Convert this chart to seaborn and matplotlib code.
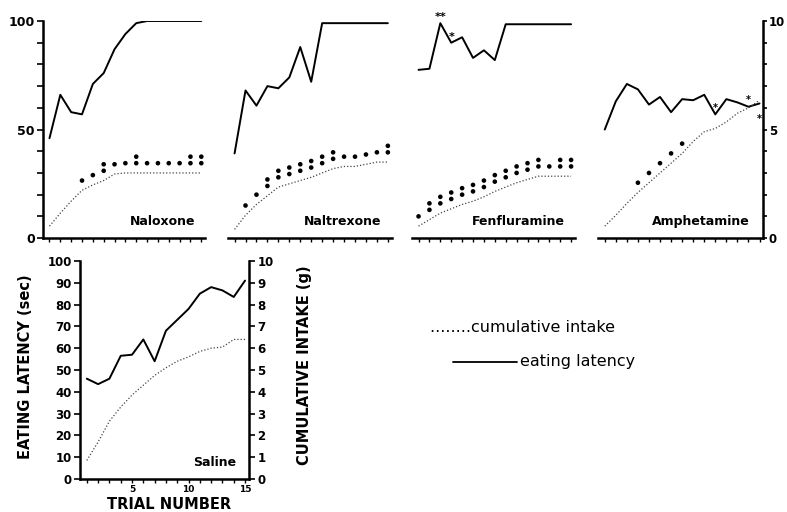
import matplotlib
matplotlib.use("Agg")
import matplotlib.pyplot as plt
from matplotlib.lines import Line2D
import seaborn as sns
import pandas as pd

trials = list(range(1, 16))

# eating latency (sec), cumulative intake (g), significance dots per trial
naloxone_latency = [46, 66, 58, 57, 71, 76, 87, 94, 99, 100, 100, 100, 100, 100, 100]
naloxone_intake = [0.55, 1.15, 1.7, 2.2, 2.45, 2.65, 2.95, 3.0, 3.0, 3.0, 3.0, 3.0, 3.0, 3.0, 3.0]
naloxone_sig = [0, 0, 0, 1, 1, 2, 1, 1, 2, 1, 1, 1, 1, 2, 2]

naltrexone_latency = [39, 68, 61, 70, 69, 74, 88, 72, 99, 99, 99, 99, 99, 99, 99]
naltrexone_intake = [0.4, 1.05, 1.55, 1.95, 2.35, 2.5, 2.65, 2.8, 3.0, 3.2, 3.3, 3.3, 3.4, 3.5, 3.5]
naltrexone_sig = [0, 1, 1, 2, 2, 2, 2, 2, 2, 2, 1, 1, 1, 1, 2]

fenfluramine_latency = [77.5, 78, 99, 90, 92.5, 83, 86.5, 82, 98.5, 98.5, 98.5, 98.5, 98.5, 98.5, 98.5]
fenfluramine_intake = [0.55, 0.85, 1.15, 1.35, 1.55, 1.7, 1.9, 2.15, 2.35, 2.55, 2.7, 2.85, 2.85, 2.85, 2.85]
fenfluramine_sig = [1, 2, 2, 2, 2, 2, 2, 2, 2, 2, 2, 2, 1, 2, 2]
fenfluramine_star_trials = [3, 4]
fenfluramine_star_labels = ["**", "*"]

amphetamine_latency = [50, 63, 71, 68.5, 61.5, 65, 58, 64, 63.5, 66, 57, 64, 62.5, 60.5, 62]
amphetamine_intake = [0.55, 1.05, 1.6, 2.1, 2.55, 3.0, 3.45, 3.9, 4.45, 4.9, 5.05, 5.35, 5.75, 6.0, 6.35]
amphetamine_sig = [0, 0, 0, 1, 1, 1, 1, 1, 0, 0, 0, 0, 0, 0, 0]
amphetamine_star_trials = [11, 14, 15]
amphetamine_star_side = [1, 1, -1]

saline_latency = [46, 43.5, 46, 56.5, 57, 64, 54, 68, 73, 78, 85, 88, 86.5, 83.5, 91]
saline_intake = [0.85, 1.7, 2.65, 3.3, 3.85, 4.3, 4.75, 5.1, 5.4, 5.6, 5.85, 6.0, 6.05, 6.4, 6.4]

sns.set_style("ticks")
plt.rcParams["font.family"] = ["DejaVu Sans"]
plt.rcParams.update({"text.color": "black", "axes.labelcolor": "black",
                     "xtick.color": "black", "ytick.color": "black",
                     "axes.edgecolor": "black"})

fig = plt.figure(figsize=(7.87, 5.12), dpi=100)


def draw_panel(ax, latency, intake, sig, name, name_x, name_size=9):
    df = pd.DataFrame({"trial": trials, "latency": latency, "intake": intake, "sig": sig})
    ax2 = ax.twinx()
    sns.lineplot(data=df, x="trial", y="latency", ax=ax, color="black", linewidth=1.4)
    sns.lineplot(data=df, x="trial", y="intake", ax=ax2, color="#444444",
                 linewidth=0.9, linestyle=(0, (1, 1.6)))
    dots = df.loc[df.index.repeat(df["sig"])].copy()
    if len(dots):
        dots["level"] = dots.groupby("trial").cumcount()
        dots["y"] = dots["intake"] + 0.45 + 0.3 * dots["level"]
        sns.scatterplot(data=dots, x="trial", y="y", ax=ax2, color="black",
                        s=11, edgecolor="none", legend=False)
    ax.set_xlim(0.4, 15.35)
    ax.set_ylim(0, 100)
    ax2.set_ylim(0, 10)
    ax.set_xlabel("")
    ax.set_ylabel("")
    ax2.set_ylabel("")
    ax.set_xticks(trials)
    ax.set_xticklabels([""] * len(trials))
    ax.tick_params(axis="x", direction="out", length=3, width=1)
    for s in ["top", "right", "left"]:
        ax.spines[s].set_visible(False)
    for s in ["top", "left", "bottom", "right"]:
        ax2.spines[s].set_visible(False)
    ax.spines["bottom"].set_linewidth(1.8)
    ax.set_yticks([])
    ax2.set_yticks([])
    ax.text(name_x, 0.075, name, transform=ax.transAxes, ha="right", va="center",
            fontsize=name_size, fontweight="bold")
    return ax2


lefts = [0.0546, 0.2897, 0.5235, 0.760]
widths = [0.206, 0.208, 0.207, 0.21]
axes = [fig.add_axes([l, 0.535, w, 0.424]) for l, w in zip(lefts, widths)]

ax1b = draw_panel(axes[0], naloxone_latency, naloxone_intake, naloxone_sig, "Naloxone", 0.94)
ax2b = draw_panel(axes[1], naltrexone_latency, naltrexone_intake, naltrexone_sig, "Naltrexone", 0.94)
ax3b = draw_panel(axes[2], fenfluramine_latency, fenfluramine_intake, fenfluramine_sig, "Fenfluramine", 0.94)
ax4b = draw_panel(axes[3], amphetamine_latency, amphetamine_intake, amphetamine_sig, "Amphetamine", 0.92)

# left axis of first panel
axes[0].spines["left"].set_visible(True)
axes[0].spines["left"].set_linewidth(1.8)
axes[0].set_yticks(range(0, 101, 10))
axes[0].set_yticklabels(["0", "", "", "", "", "50", "", "", "", "", "100"],
                        fontsize=9, fontweight="bold")
axes[0].tick_params(axis="y", direction="out", length=4, width=1.2, pad=2)

# right axis of last panel
ax4b.spines["right"].set_visible(True)
ax4b.spines["right"].set_linewidth(1.8)
ax4b.set_yticks(range(0, 11))
ax4b.set_yticklabels(["0", "", "", "", "", "5", "", "", "", "", "10"],
                     fontsize=8.5, fontweight="bold")
ax4b.tick_params(axis="y", direction="out", length=3, width=1.2, pad=1)

# significance stars on latency
for t, lab in zip(fenfluramine_star_trials, fenfluramine_star_labels):
    axes[2].text(t, fenfluramine_latency[t - 1] + 2.8, lab, ha="center", va="center",
                 fontsize=8, fontweight="bold")
for t, side in zip(amphetamine_star_trials, amphetamine_star_side):
    axes[3].text(t, amphetamine_latency[t - 1] + side * 5 - 2, "*", ha="center", va="center",
                 fontsize=7, fontweight="bold")

# saline panel
ax5 = fig.add_axes([0.1017, 0.0645, 0.2147, 0.4258])
ax5b = draw_panel(ax5, saline_latency, saline_intake, [0] * 15, "Saline", 0.923)
ax5.spines["left"].set_visible(True)
ax5.spines["left"].set_linewidth(1.8)
ax5b.spines["right"].set_visible(True)
ax5b.spines["right"].set_linewidth(1.8)
ax5.set_yticks(range(0, 101, 10))
ax5.set_yticklabels([str(v) for v in range(0, 101, 10)], fontsize=8.5, fontweight="bold")
ax5b.set_yticks(range(0, 11))
ax5b.set_yticklabels([str(v) for v in range(0, 11)], fontsize=8.5, fontweight="bold")
ax5.tick_params(axis="y", direction="out", length=4, width=1.2, pad=2)
ax5b.tick_params(axis="y", direction="out", length=4, width=1.2, pad=2)
ax5.set_xticklabels([str(t) if t % 5 == 0 else "" for t in trials], fontsize=6.5, fontweight="bold")
ax5.tick_params(axis="x", pad=1)
ax5.set_xlabel("TRIAL NUMBER", fontsize=10.5, fontweight="bold")
ax5.xaxis.set_label_coords(0.527, -0.083)
ax5.set_ylabel("EATING LATENCY (sec)", fontsize=10.5, fontweight="bold")
ax5.yaxis.set_label_coords(-0.28, 0.514)
ax5b.set_ylabel("CUMULATIVE INTAKE (g)", fontsize=10.5, fontweight="bold")
ax5b.yaxis.set_label_coords(1.285, 0.52)

# legend drawn as text
fig.text(0.546, 0.361, "........cumulative intake", fontsize=11.5, ha="left", va="center")
fig.add_artist(Line2D([453 / 787, 517 / 787], [0.293, 0.293], color="black", linewidth=1.3))
fig.text(0.661, 0.293, "eating latency", fontsize=11.5, ha="left", va="center")

fig.savefig("out.png", dpi=100)
